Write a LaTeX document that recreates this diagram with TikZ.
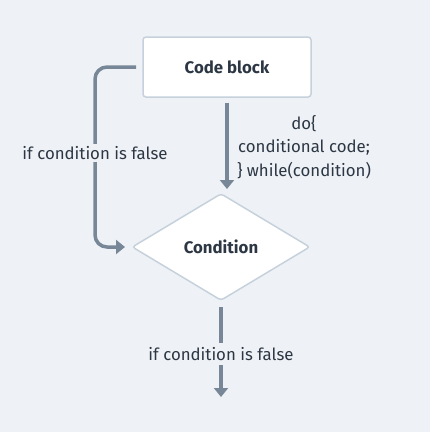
\documentclass[tikz,border=0pt]{standalone}
\usepackage{fontspec}
\setmainfont{Fira Sans}
\usetikzlibrary{shapes.geometric,arrows.meta}
\definecolor{bgc}{HTML}{EEF2F6}
\definecolor{edgec}{HTML}{C6D1DC}
\definecolor{linec}{HTML}{788797}
\definecolor{txtc}{HTML}{2D3744}
\begin{document}
\begin{tikzpicture}[x=1pt,y=-1pt,
  box/.style={draw=edgec,line width=1.5pt,fill=white,rounded corners=3pt,minimum width=168pt,minimum height=60pt,inner sep=0pt,font=\fontsize{16.8}{20}\selectfont\bfseries,text=txtc},
  dia/.style={diamond,draw=edgec,line width=1.5pt,fill=white,rounded corners=3pt,minimum width=178pt,minimum height=107pt,inner sep=0pt,aspect=1.66,font=\fontsize{16.8}{20}\selectfont\bfseries,text=txtc},
  conn/.style={draw=linec,line width=3.5pt,-{Triangle[length=9pt,width=14pt]}},
  lbl/.style={fill=bgc,inner sep=2pt,font=\fontsize{16.8}{20}\selectfont,text=txtc,align=center}]
\fill[bgc] (0,0) rectangle (430,432);
\useasboundingbox (0,0) rectangle (430,432);
\node[box] (cb) at (227,67) {Code block};
\node[dia] (cond) at (221,247) {Condition};
\coordinate (cbt) at (227,103);
\coordinate (cdt) at (227,189);
\draw[conn] (cbt) -- (cdt);
\node[lbl,fill=none,font=\fontsize{16.8}{23.5}\selectfont] (code) at (304,147) {do\{\\conditional code;\\\} while(condition)};
\coordinate (ls) at (136,67);
\coordinate (le) at (125,247);
\draw[conn,rounded corners=12pt] (ls) -- (95,67) -- (95,247) -- (le);
\node[lbl] (l1) at (95,153) {if condition is false};
\coordinate (bs) at (221,307);
\coordinate (be) at (221,397);
\draw[conn] (bs) -- (be);
\node[lbl,inner ysep=4pt] (l2) at (221,354) {if condition is false};
\end{tikzpicture}
\end{document}
